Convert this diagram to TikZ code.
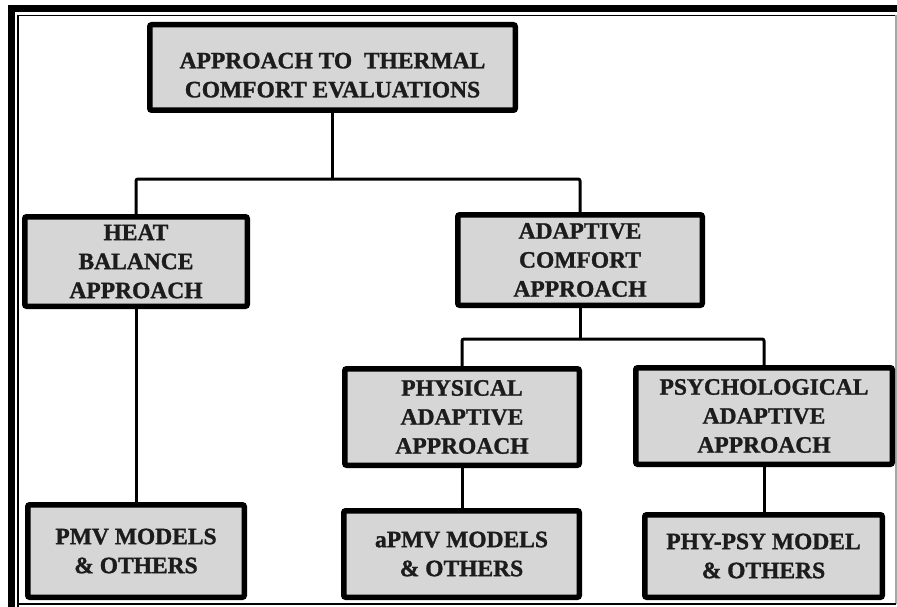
\documentclass[tikz,border=0pt]{standalone}
\usepackage{fontspec}
\setmainfont{Liberation Serif}[BoldFeatures={FakeBold=1.2}]

\definecolor{boxgray}{RGB}{214,214,214}
\definecolor{inkgray}{RGB}{28,28,28}

\tikzset{
  box/.style={draw=black, line width=5.5pt, fill=boxgray, rounded corners=2pt,
    align=center, inner sep=0pt, text=inkgray,
    font=\fontsize{23.5}{29}\selectfont\bfseries},
  link/.style={line width=3pt, rounded corners=2pt},
}

\begin{document}
\begin{tikzpicture}[x=1pt, y=-1pt]
        \useasboundingbox (0,0) rectangle (897,607);
        % page frame
        \draw[line width=7pt] (11.5,607) -- (11.5,8.5) -- (897,8.5);
        \draw[line width=1.8pt] (18,607) -- (18,15.5) -- (897,15.5);
        \draw[line width=1.2pt, black!35] (896,15.5) -- (896,604);
        \draw[line width=1.8pt] (18,604) -- (896,604);

        \node[box, minimum width=365.5pt, minimum height=85.5pt] (top)    at (332.5,67.5) {\rule{0pt}{31pt}APPROACH TO\ \ THERMAL\\COMFORT EVALUATIONS};
        \node[box, minimum width=222.5pt, minimum height=89.5pt] (heat)   at (136,261.5)  {HEAT\\BALANCE\\APPROACH};
        \node[box, minimum width=244.5pt, minimum height=90.5pt] (adapt)  at (580,260)    {ADAPTIVE\\COMFORT\\APPROACH};
        \node[box, minimum width=234.5pt, minimum height=96.5pt] (phys)   at (462,417)    {PHYSICAL\\ADAPTIVE\\APPROACH};
        \node[box, minimum width=256.5pt, minimum height=96.5pt] (psych)  at (764,416)    {PSYCHOLOGICAL\\ADAPTIVE\\APPROACH};
        \node[box, minimum width=216.5pt, minimum height=92.5pt] (pmv)    at (136,551)    {PMV MODELS\\\& OTHERS};
        \node[box, minimum width=235.5pt, minimum height=86.5pt] (apmv)   at (461.5,554)  {aPMV MODELS\\\& OTHERS};
        \node[box, minimum width=237.5pt, minimum height=82.5pt] (phypsy) at (763.5,556)  {PHY-PSY MODEL\\\& OTHERS};

        \coordinate (bus1) at (332.5,179);
        \coordinate (bus2) at (580,339);

        \draw[link] (top) -- (top |- bus1);
        \draw[link] (heat.north) |- (bus1) -| (adapt.north);
        \draw[link] (adapt) -- (adapt |- bus2);
        \draw[link] (phys.north) |- (bus2) -| (psych.north);
        \draw[link] (heat) -- (pmv);
        \draw[link] (phys) -- (phys |- apmv.north);
        \draw[link] (psych) -- (psych |- phypsy.north);
    \end{tikzpicture}
\end{document}
